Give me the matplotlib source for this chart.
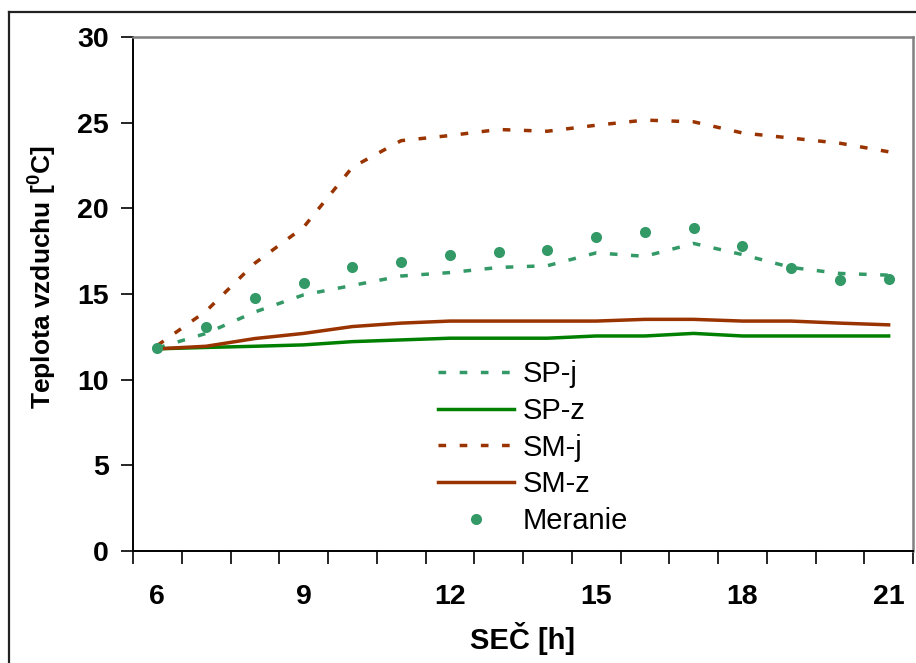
import matplotlib
matplotlib.use('Agg')
import matplotlib.pyplot as plt
from matplotlib.lines import Line2D

plt.rcParams['font.family'] = ['Liberation Sans', 'DejaVu Sans']
plt.rcParams['mathtext.fontset'] = 'custom'
plt.rcParams['mathtext.rm'] = 'Liberation Sans:bold'
plt.rcParams['mathtext.bf'] = 'Liberation Sans:bold'

# hodiny merania
hours = [6, 7, 8, 9, 10, 11, 12, 13, 14, 15, 16, 17, 18, 19, 20, 21]

sp_j = [11.85, 12.7, 13.95, 14.95, 15.5, 16.05, 16.25, 16.55, 16.65, 17.4, 17.2, 17.95, 17.3, 16.55, 16.2, 16.1]
sp_z = [11.8, 11.88, 11.95, 12.03, 12.22, 12.32, 12.42, 12.42, 12.42, 12.55, 12.55, 12.7, 12.55, 12.55, 12.55, 12.55]
sm_j = [12.0, 14.0, 16.8, 18.9, 22.4, 23.95, 24.25, 24.6, 24.5, 24.85, 25.15, 25.05, 24.4, 24.1, 23.8, 23.3]
sm_z = [11.8, 11.95, 12.4, 12.7, 13.1, 13.3, 13.42, 13.42, 13.42, 13.42, 13.52, 13.52, 13.42, 13.42, 13.3, 13.2]
meranie = [11.85, 13.1, 14.75, 15.65, 16.6, 16.85, 17.25, 17.45, 17.55, 18.3, 18.6, 18.85, 17.8, 16.5, 15.8, 15.9]

y_ticks = [0, 5, 10, 15, 20, 25, 30]
x_labels = ['6', '9', '12', '15', '18', '21']

green = '#339966'
dark_green = '#008000'
brown = '#993300'

W, H = 916, 663
fig = plt.figure(figsize=(W / 100, H / 100), dpi=100)
ax = fig.add_axes([133 / W, 1 - 551 / H, 780 / W, 514 / H])

# ramik grafu (vlavo a hore)
fig.add_artist(Line2D([9 / W, 9 / W], [0, 1 - 12 / H], color='#222222', lw=1.6, transform=fig.transFigure))
fig.add_artist(Line2D([9 / W, 1], [1 - 12 / H, 1 - 12 / H], color='#222222', lw=1.6, transform=fig.transFigure))

x = list(range(len(hours)))
dash = (0, (2.2, 3.9))
lw = 2.5

ax.plot(x, sp_j, color=green, lw=lw, linestyle=dash, dash_capstyle='butt', label='SP-j')
ax.plot(x, sp_z, color=dark_green, lw=lw, label='SP-z')
ax.plot(x, sm_j, color=brown, lw=lw, linestyle=dash, dash_capstyle='butt', label='SM-j')
ax.plot(x, sm_z, color=brown, lw=lw, label='SM-z')
ax.plot(x, meranie, 'o', color=green, markersize=8, markeredgewidth=0, label='Meranie', zorder=5)

ax.set_xlim(-0.5, len(hours) - 0.5)
ax.set_ylim(0, 30)
ax.set_yticks(y_ticks)
ax.set_yticklabels([str(v) for v in y_ticks])

ax.set_xticks([hours.index(int(s)) for s in x_labels])
ax.set_xticklabels(x_labels)
ax.set_xticks([i - 0.5 for i in range(len(hours) + 1)], minor=True)
ax.tick_params(axis='x', which='major', length=0, pad=24)
ax.tick_params(axis='x', which='minor', length=9, width=1.2, direction='out', color='black')
ax.tick_params(axis='y', which='major', length=9, width=1.2, direction='out', pad=8.5)
for lab in ax.get_xticklabels() + ax.get_yticklabels():
    lab.set_fontsize(20.5)
    lab.set_fontweight('bold')

for s in ['top', 'right']:
    ax.spines[s].set_color('#808080')
    ax.spines[s].set_linewidth(1.8)
for s in ['left', 'bottom']:
    ax.spines[s].set_color('black')
    ax.spines[s].set_linewidth(1.4)

ax.set_xlabel('SEČ [h]', fontsize=21, fontweight='bold')
ax.xaxis.set_label_coords(0.5, -0.138)
ax.set_ylabel(r'Teplota vzduchu [$^\mathbf{0}$C]', fontsize=19, fontweight='bold')
ax.yaxis.set_label_coords(-0.096, 0.533)

ax.legend(loc='upper left', bbox_to_anchor=(438 / W, 1 - 360 / H), bbox_transform=fig.transFigure,
          frameon=False, fontsize=21, handlelength=2.6, handletextpad=0.3, labelspacing=0.3,
          borderpad=0, borderaxespad=0)

fig.savefig('out.png', dpi=100)
